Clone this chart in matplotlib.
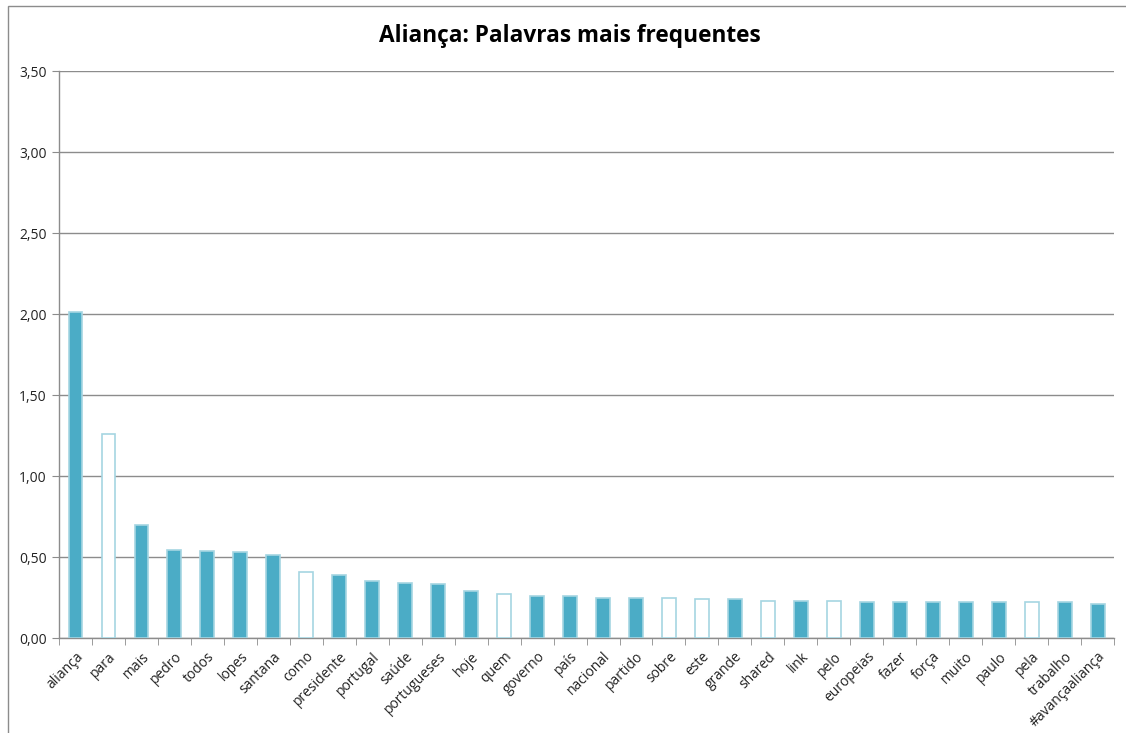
import matplotlib
matplotlib.use("Agg")
import matplotlib.pyplot as plt
from matplotlib.ticker import FixedLocator, FuncFormatter
import numpy as np

plt.rcParams['font.family'] = ['Open Sans', 'DejaVu Sans']

# word frequencies (%)
words = ["aliança", "para", "mais", "pedro", "todos", "lopes", "santana", "como",
         "presidente", "portugal", "saúde", "portugueses", "hoje", "quem", "governo",
         "país", "nacional", "partido", "sobre", "este", "grande", "shared", "link",
         "pelo", "europeias", "fazer", "força", "muito", "paulo", "pela", "trabalho",
         "#avançaaliança"]
freq = [2.01, 1.26, 0.70, 0.545, 0.54, 0.53, 0.51, 0.41,
        0.39, 0.35, 0.34, 0.335, 0.29, 0.27, 0.26,
        0.26, 0.245, 0.245, 0.245, 0.24, 0.24, 0.23, 0.23,
        0.23, 0.22, 0.22, 0.22, 0.22, 0.22, 0.22, 0.22,
        0.21]
# stop words are drawn as hollow bars
hollow = ["para", "como", "quem", "sobre", "este", "shared", "pelo", "pela"]

fill_col = "#4BACC6"
edge_col = "#A5D5E2"

fig = plt.figure(figsize=(11.26, 7.33), dpi=100)
ax = fig.add_axes([0.0524, 0.1296, 0.9370, 0.7735])

x = np.arange(len(words))
faces = ["white" if w in hollow else fill_col for w in words]
ax.bar(x, freq, width=0.42, color=faces, edgecolor=edge_col, linewidth=1.2, zorder=3)

ax.set_xlim(-0.5, len(words) - 0.5)
ax.set_ylim(0, 3.5)
ax.set_yticks(np.arange(0, 3.51, 0.5))
ax.yaxis.set_major_formatter(FuncFormatter(lambda v, p: ("%.2f" % v).replace(".", ",")))
ax.grid(axis="y", color="#8c8c8c", linewidth=1.0, zorder=0)

ax.set_xticks(x)
ax.set_xticklabels(words, rotation=45, ha="right", rotation_mode="anchor", fontsize=10,
                   color="#222222")
ax.xaxis.set_minor_locator(FixedLocator(np.arange(-0.5, len(words), 1.0)))
ax.tick_params(axis="x", which="major", length=0, pad=8)
ax.tick_params(axis="x", which="minor", length=5, color="#8c8c8c", direction="out")
ax.tick_params(axis="y", length=5, color="#8c8c8c", labelsize=10, pad=4,
               labelcolor="#222222")

for s in ["top", "right"]:
    ax.spines[s].set_visible(False)
for s in ["left", "bottom"]:
    ax.spines[s].set_color("#8c8c8c")
    ax.spines[s].set_linewidth(1.0)

fig.text(0.506, 0.951, "Aliança: Palavras mais frequentes", ha="center", va="center",
         fontsize=16.3, fontweight="bold")

# chart border like the spreadsheet frame
fig.patches.append(plt.Rectangle((8 / 1126, -0.1), 1.2, 1.1 - 6 / 733,
                                 transform=fig.transFigure, fill=False,
                                 edgecolor="#8c8c8c", linewidth=1.0))

fig.savefig("out.png", dpi=100)
